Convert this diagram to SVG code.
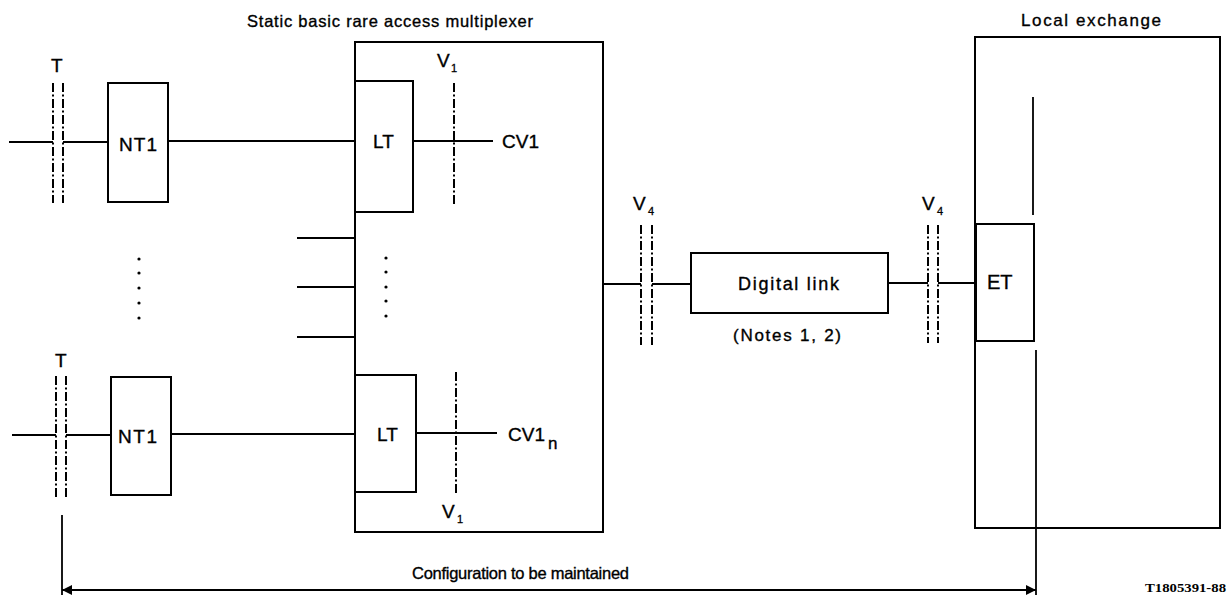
<svg xmlns="http://www.w3.org/2000/svg" width="1232" height="598" viewBox="0 0 1232 598">
<style>
.box{fill:none;stroke:#000;stroke-width:2}
.ln{fill:none;stroke:#000;stroke-width:1.8}
.dd{fill:none;stroke:#000;stroke-width:2;stroke-dasharray:9 2.5 2 2.5}
.t{font-family:"Liberation Sans",Arial,sans-serif;font-size:19px;fill:#000;stroke:#000;stroke-width:0.35}
.s{font-family:"Liberation Sans",Arial,sans-serif;font-size:11px;fill:#000;stroke:#000;stroke-width:0.3}
.ref{font-family:"Liberation Serif","Times New Roman",serif;font-size:13px;font-weight:bold;fill:#000}
.dot{fill:#000}
</style>
<defs>
<marker id="ah" viewBox="0 0 10 10" refX="10" refY="5" markerWidth="10" markerHeight="10" markerUnits="userSpaceOnUse" orient="auto-start-reverse">
<path d="M0,0 L10,5 L0,10 Z" fill="#000"/>
</marker>
</defs>

<rect width="1232" height="598" fill="#fff"/>

<!-- Titles -->
<text class="t" x="247" y="27" textLength="286" lengthAdjust="spacing" style="font-size:16.5px">Static basic rare access multiplexer</text>
<text class="t" x="1021" y="26" textLength="140" lengthAdjust="spacing" style="font-size:17px">Local exchange</text>

<!-- Interface markers -->
<g id="if-T-top">
<text class="t" x="51" y="72">T</text>
<line class="dd" x1="53" y1="83" x2="53" y2="203"/>
<line class="dd" x1="63" y1="83" x2="63" y2="203"/>
</g>
<g id="if-T-bottom">
<text class="t" x="55" y="367">T</text>
<line class="dd" x1="56" y1="376" x2="56" y2="497"/>
<line class="dd" x1="66" y1="376" x2="66" y2="497"/>
</g>
<g id="if-V1-top">
<text class="t" x="437" y="67">V</text><text class="s" x="451" y="72">1</text>
<line class="dd" x1="454" y1="83" x2="454" y2="205"/>
</g>
<g id="if-V1-bottom">
<text class="t" x="442" y="518">V</text><text class="s" x="457" y="523">1</text>
<line class="dd" x1="456" y1="372" x2="456" y2="493"/>
</g>
<g id="if-V4-left">
<text class="t" x="633" y="210">V</text><text class="s" x="648" y="215">4</text>
<line class="dd" x1="641" y1="225" x2="641" y2="345"/>
<line class="dd" x1="652" y1="225" x2="652" y2="345"/>
</g>
<g id="if-V4-right">
<text class="t" x="922" y="210">V</text><text class="s" x="937" y="215">4</text>
<line class="dd" x1="928" y1="225" x2="928" y2="343"/>
<line class="dd" x1="938" y1="225" x2="938" y2="343"/>
</g>

<!-- Nodes -->
<g id="nt1-top">
<rect class="box" x="108" y="83" width="60" height="119"/>
<text class="t" x="119" y="151" textLength="38" lengthAdjust="spacing">NT1</text>
</g>
<g id="nt1-bottom">
<rect class="box" x="111" y="377" width="60" height="118"/>
<text class="t" x="118" y="443" textLength="39" lengthAdjust="spacing">NT1</text>
</g>
<g id="mux">
<rect class="box" x="355" y="42" width="248" height="490"/>
</g>
<g id="lt-top">
<rect class="box" x="355" y="81" width="58" height="131"/>
<text class="t" x="373" y="148">LT</text>
</g>
<g id="lt-bottom">
<rect class="box" x="355" y="375" width="61" height="117"/>
<text class="t" x="377" y="441">LT</text>
</g>
<g id="cv1">
<text class="t" x="502" y="148">CV1</text>
</g>
<g id="cv1n">
<text class="t" x="508" y="441">CV1</text><text class="t" x="548" y="449" style="font-size:17px">n</text>
</g>
<g id="digital-link">
<rect class="box" x="691" y="253" width="197" height="60"/>
<text class="t" x="738" y="290" textLength="101" lengthAdjust="spacing" style="font-size:18px">Digital link</text>
<text class="t" x="733" y="341" textLength="108" lengthAdjust="spacing" style="font-size:17px">(Notes 1, 2)</text>
</g>
<g id="local-exchange">
<rect class="box" x="975" y="37" width="245" height="491"/>
<line class="ln" x1="1033" y1="97" x2="1033" y2="215"/>
</g>
<g id="et">
<rect class="box" x="976" y="224" width="58" height="117"/>
<text class="t" x="987" y="289" style="font-size:20px">ET</text>
</g>

<!-- Dots -->
<g id="dots">
<circle class="dot" cx="139" cy="259" r="1.6"/>
<circle class="dot" cx="139" cy="273" r="1.6"/>
<circle class="dot" cx="139" cy="288" r="1.6"/>
<circle class="dot" cx="139" cy="303" r="1.6"/>
<circle class="dot" cx="139" cy="318" r="1.6"/>
<circle class="dot" cx="386" cy="258" r="1.6"/>
<circle class="dot" cx="386" cy="272" r="1.6"/>
<circle class="dot" cx="386" cy="287" r="1.6"/>
<circle class="dot" cx="386" cy="301" r="1.6"/>
<circle class="dot" cx="386" cy="316" r="1.6"/>
</g>

<!-- Connectors -->
<g id="connectors">
<line class="ln" x1="9" y1="142" x2="53" y2="142"/>
<line class="ln" x1="63" y1="142" x2="108" y2="142"/>
<line class="ln" x1="168" y1="141" x2="355" y2="141"/>
<line class="ln" x1="413" y1="141" x2="493" y2="141"/>

<line class="ln" x1="12" y1="435" x2="56" y2="435"/>
<line class="ln" x1="66" y1="435" x2="111" y2="435"/>
<line class="ln" x1="171" y1="434" x2="355" y2="434"/>
<line class="ln" x1="416" y1="433" x2="497" y2="433"/>

<line class="ln" x1="297" y1="238" x2="355" y2="238"/>
<line class="ln" x1="297" y1="287" x2="355" y2="287"/>
<line class="ln" x1="297" y1="337" x2="355" y2="337"/>

<line class="ln" x1="603" y1="284" x2="641" y2="284"/>
<line class="ln" x1="652" y1="284" x2="691" y2="284"/>
<line class="ln" x1="888" y1="283" x2="928" y2="283"/>
<line class="ln" x1="938" y1="283" x2="976" y2="283"/>

<line class="ln" x1="62" y1="515" x2="62" y2="595"/>
<line class="ln" x1="1036" y1="350" x2="1036" y2="595"/>
<line class="ln" x1="62" y1="590" x2="1036" y2="590" marker-start="url(#ah)" marker-end="url(#ah)"/>
</g>

<text class="t" x="412" y="579" textLength="217" lengthAdjust="spacing" style="font-size:16.5px">Configuration to be maintained</text>
<text class="ref" x="1145" y="592" textLength="81" lengthAdjust="spacingAndGlyphs">T1805391-88</text>
</svg>
